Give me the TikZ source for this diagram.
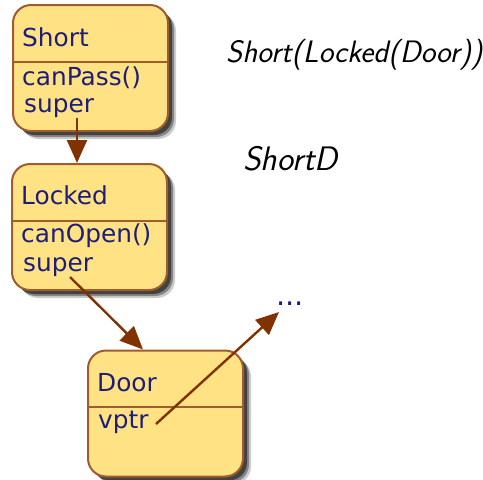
\documentclass[tikz,border=0pt]{standalone}
\usepackage{fontspec}
\setmainfont{DejaVu Sans}
\usetikzlibrary{arrows.meta,shadows}
\definecolor{boxfill}{RGB}{255,226,131}
\definecolor{boxline}{RGB}{160,92,45}
\definecolor{txt}{RGB}{30,30,120}
\definecolor{arr}{RGB}{128,51,0}
\tikzset{
  umlbox/.style={draw=boxline, line width=2pt, fill=boxfill, rounded corners=18pt,
    minimum width=155pt, minimum height=126pt, inner sep=0pt,
    drop shadow={shadow xshift=8pt, shadow yshift=-8pt, opacity=0.2, fill=black},
    drop shadow={shadow xshift=6pt, shadow yshift=-6pt, opacity=0.35, fill=black},
    drop shadow={shadow xshift=4pt, shadow yshift=-4pt, opacity=0.5, fill=black}},
  divider/.style={draw=boxline, line width=1.6pt},
  lbl/.style={anchor=base west, inner sep=0pt, text=txt, font=\fontsize{24.8}{28}\selectfont},
  link/.style={draw=arr, line width=2.4pt, -{Triangle[length=23pt,width=20pt]}},
  hand/.style={anchor=base west, inner sep=0pt, text=black, font=\sffamily\itshape\fontsize{31}{34}\selectfont}
}
\begin{document}
\begin{tikzpicture}[x=1pt,y=-1pt]
\useasboundingbox (0,0) rectangle (483,480);
% boxes
\node[umlbox] (short) at (90.5,68) {};
\node[umlbox] (locked) at (89.5,227) {};
\node[umlbox] (door) at (165.5,413.5) {};
\draw[divider] (13,62) -- (168,62);
\draw[divider] (12,221) -- (167,221);
\draw[divider] (88,407) -- (243,407);
% texts
\node[lbl] (tshort) at (22,46) {Short};
\node[lbl] (tcanpass) at (22,85) {canPass()};
\node[lbl] (tsuper1) at (24,112) {super};
\node[lbl] (tlocked) at (21,204) {Locked};
\node[lbl] (tcanopen) at (21,242) {canOpen()};
\node[lbl] (tsuper2) at (23,271) {super};
\node[lbl] (tdoor) at (97,391) {Door};
\node[lbl] (tvptr) at (98,428) {vptr};
\node[lbl, font=\fontsize{29}{32}\selectfont] (dots) at (276,305) {...};
% handwriting
\node[hand] (h1) at (226,62) {Short(Locked(Door))};
\node[hand, font=\sffamily\itshape\fontsize{34}{38}\selectfont] (h2) at (243,170) {ShortD};
% connectors
\coordinate (s1) at (77,118);
\coordinate (s2) at (70,277);
\coordinate (d2) at (143,350);
\coordinate (v1) at (156,424);
\coordinate (e3) at (279,312);
\draw[link] (s1) -- (s1 |- locked.north);
\draw[link] (s2) -- (d2 |- door.north);
\draw[link] (v1) -- (e3);
\end{tikzpicture}
\end{document}
